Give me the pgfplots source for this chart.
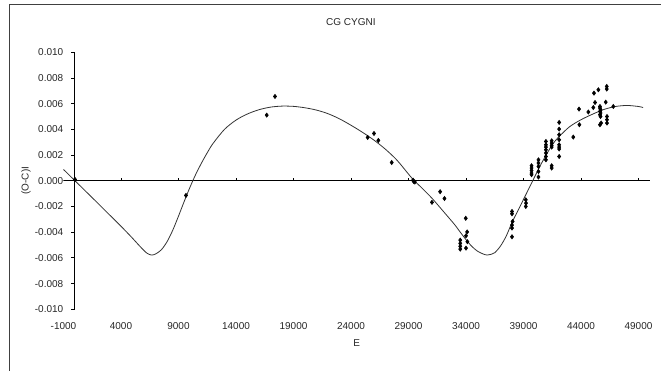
\documentclass[border=0pt]{standalone}
\usepackage{pgfplots}
\pgfplotsset{compat=1.18}
\usepackage{fontspec}
\setmainfont{Liberation Sans}
\begin{document}
\fontsize{7.5}{9}\selectfont
\begin{tikzpicture}
\path[use as bounding box] (-47.625pt,-46.3pt) rectangle (448.125pt,231.95pt);
\draw[black!75, line width=0.75pt] (-40.125pt,-46.3pt) -- (-40.125pt,228.2pt) -- (448.125pt,228.2pt);
\begin{axis}[
  at={(0pt,0pt)}, anchor=south west,
  scale only axis, width=439.875pt, height=192.75pt,
  xmin=-1000, xmax=50000, ymin=-0.010, ymax=0.010,
  scaled ticks=false,
  axis line style={draw=none}, tick style={draw=none},
  xtick={-1000,4000,9000,14000,19000,24000,29000,34000,39000,44000,49000},
  xticklabels={-1000,4000,9000,14000,19000,24000,29000,34000,39000,44000,49000},
  ytick={-0.010,-0.008,-0.006,-0.004,-0.002,0,0.002,0.004,0.006,0.008,0.010},
  yticklabels={-0.010,-0.008,-0.006,-0.004,-0.002,0.000,0.002,0.004,0.006,0.008,0.010},
  every tick label/.append style={font=\fontsize{7.5}{9}\selectfont, text=black!85},
  xticklabel style={yshift=-7.5pt},
  yticklabel style={xshift=2.5pt},
  title={CG CYGNI},
  title style={at={(axis description cs:0.49,1.0868)}, anchor=center, font=\fontsize{7.5}{9}\selectfont, text=black!85},
  xlabel={E},
  xlabel style={at={(axis description cs:0.5,-0.1323)}, anchor=center, font=\fontsize{7.5}{9}\selectfont, text=black!85},
  ylabel={(O-C)I},
  ylabel style={at={(axis description cs:-0.0639,0.5)}, anchor=center, font=\fontsize{7.5}{9}\selectfont, text=black!85},
]
% zero line and y axis
\draw[black, line width=1.1pt] (axis cs:-1000,0) -- (axis cs:50000,0);
\draw[black, line width=0.75pt] (axis cs:0,-0.010) -- (axis cs:0,0.010);
\pgfplotsinvokeforeach{4000,9000,14000,19000,24000,29000,34000,39000,44000,49000}{
  \draw[black, line width=0.6pt] (axis cs:#1,0) -- ++(0pt,2.25pt);
}
\pgfplotsinvokeforeach{-0.010,-0.008,-0.006,-0.004,-0.002,0,0.002,0.004,0.006,0.008,0.010}{
  \draw[black, line width=0.6pt] (axis cs:0,#1) -- ++(-3pt,0pt);
}
% fitted curve
\addplot[black!80, line width=0.6pt, smooth, no marks] coordinates {
(-1000,0.00088) (0,0.0) (1000,-0.00088) (2000,-0.00176) (3000,-0.00265)
(4000,-0.00354) (4500,-0.00400) (5000,-0.00447) (5500,-0.00496) (6000,-0.00543)
(6300,-0.00566) (6650,-0.00578) (7000,-0.00570) (7500,-0.00538) (8000,-0.00475) (8500,-0.00385)
(9000,-0.00275) (9500,-0.00160) (10000,-0.00050) (10500,0.00050) (11000,0.00138)
(11500,0.00218) (12000,0.00290) (13000,0.00400) (14000,0.00472) (15000,0.00520)
(16000,0.00553) (17000,0.00573) (18000,0.00581) (19000,0.00579) (20000,0.00568)
(21000,0.00550) (22000,0.00522) (23000,0.00482) (24000,0.00432) (25000,0.00377)
(26000,0.00316) (27000,0.00245) (28000,0.00160) (29000,0.00052) (29500,0.0)
(30000,-0.00042) (31000,-0.00132) (32000,-0.00235) (33000,-0.00340) (33500,-0.00400)
(34000,-0.00458) (34500,-0.00510) (35000,-0.00548) (35500,-0.00570) (35850,-0.00578)
(36200,-0.00572) (36500,-0.00560) (37000,-0.00508) (37500,-0.00430) (38000,-0.00325)
(38500,-0.00235) (39000,-0.00145) (39500,-0.00055) (39800,0.0) (40000,0.00036)
(40500,0.00125) (41000,0.00205) (41500,0.00280) (42000,0.00335) (43000,0.00420)
(44000,0.00475) (45000,0.00518) (46000,0.00555) (47000,0.00578) (48000,0.00586)
(49000,0.00578) (49400,0.00570)
};
% observations
\addplot[only marks, mark=diamond*, mark size=1.6pt, black] coordinates {
(0,0.0001) (9650,-0.00114) (16670,0.00511) (17390,0.00656)
(25450,0.00337) (26000,0.00368) (26380,0.00314) (27540,0.00142)
(29400,0.00005) (29450,-0.00005) (29550,-0.0001)
(31040,-0.00168) (31750,-0.00085) (32130,-0.00138)
(33500,-0.00462) (33500,-0.00487) (33500,-0.00510) (33500,-0.00532)
(33980,-0.00292) (34100,-0.00398) (34000,-0.00428) (34120,-0.00474) (34000,-0.00524)
(38000,-0.00239) (38000,-0.00257) (38050,-0.00317) (38000,-0.00345) (38000,-0.00368) (38000,-0.00436)
(39200,-0.00148) (39220,-0.00174) (39200,-0.00200)
(39700,0.00117) (39700,0.00099) (39700,0.00080) (39700,0.00060) (39700,0.00047)
(40300,0.00163) (40300,0.00138) (40300,0.00111) (40300,0.00072) (40300,0.00029)
(40950,0.00306) (40950,0.00280) (40950,0.00262) (40950,0.00241) (40950,0.00216) (40950,0.00189) (40950,0.00163)
(41450,0.00311) (41450,0.00293) (41450,0.00275) (41450,0.00262) (41450,0.00117) (41450,0.00099)
(42100,0.00454) (42100,0.00402) (42100,0.00358) (42100,0.00319) (42100,0.00280) (42100,0.00262) (42100,0.00247) (42100,0.00189)
(43330,0.00340) (43830,0.00558) (43860,0.00436) (44640,0.00535)
(45070,0.00570) (45130,0.00682) (45220,0.00609) (45510,0.00708)
(45650,0.00578) (45650,0.00566) (45700,0.00553) (45650,0.00540) (45700,0.00527) (45650,0.00514) (45700,0.00500) (45750,0.00449) (45650,0.00436)
(46150,0.00612) (46240,0.00734) (46240,0.00714) (46260,0.00500) (46260,0.00475) (46260,0.00449)
(46810,0.00578)
};
\end{axis}
\end{tikzpicture}
\end{document}
